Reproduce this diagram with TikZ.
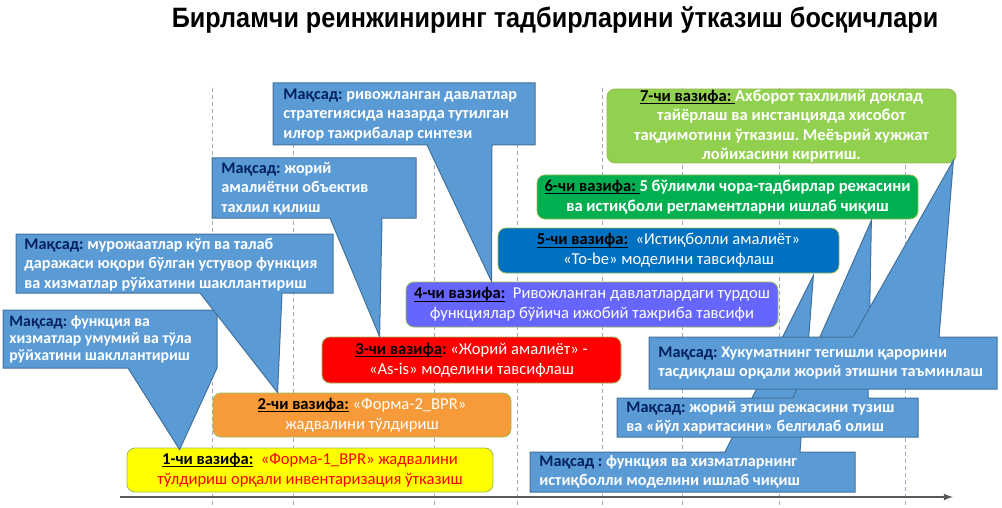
\documentclass[tikz,border=0pt]{standalone}
\usepackage{fontspec}
\setmainfont{Carlito}
\newfontfamily\titlefont{Liberation Sans}
\usepackage{xcolor}
\usepackage{tikz}
\usetikzlibrary{shapes,arrows,positioning,calc}
\definecolor{goalblue}{HTML}{5B9BD5}
\definecolor{goalline}{HTML}{41719C}
\definecolor{goalnavy}{HTML}{002060}
\definecolor{taskline}{HTML}{9BBB59}
\definecolor{taskyellow}{HTML}{FFFF00}
\definecolor{taskorange}{HTML}{F79B3A}
\definecolor{taskred}{HTML}{FF0000}
\definecolor{taskviolet}{HTML}{6666FF}
\definecolor{taskblue}{HTML}{0070C0}
\definecolor{taskgreen}{HTML}{00B050}
\definecolor{tasklime}{HTML}{92D050}
\definecolor{gridgray}{HTML}{A3AAC2}
\definecolor{axisgray}{HTML}{595959}
\newcommand{\taskno}[1]{{\color{black}\bfseries\setbox0\hbox{#1}\rlap{\rule[-1.4pt]{\wd0}{0.45pt}}\box0}}
\frenchspacing

\begin{document}
\begin{tikzpicture}[x=0.5pt,y=-0.5pt,
    task/.style={draw=taskline, line width=0.4pt, rounded corners=4pt, align=center,
      inner sep=0pt, text=white, font=\fontsize{8.3}{10}\selectfont},
    goal/.style={fill=goalblue, draw=goalline, line width=0.5pt},
    goaltext/.style={anchor=west, align=left, inner sep=0pt, text=white,
      font=\fontsize{8.1}{9.75}\selectfont\bfseries},
    grid/.style={draw=gridgray, line width=0.5pt, dash pattern=on 2pt off 1.5pt},
    axis/.style={draw=axisgray, line width=0.6pt, -latex}]
  \useasboundingbox (0,0) rectangle (1002,508);

  \node[anchor=base, font=\titlefont\bfseries\fontsize{14}{16}\selectfont] (title) at (555,28)
    {\scalebox{0.9}[1]{Бирламчи реинжиниринг тадбирларини ўтказиш босқичлари}};

  \foreach \x in {212,293,434,517,602,682,779,905}
    \draw[grid] (\x,88) -- (\x,508);
  \draw[axis] (120,497) -- (953,497);

  \node[task, fill=taskyellow, minimum width=183pt, minimum height=22pt] (t1) at (310,470)
    {\taskno{1-чи вазифа:}\ \ {\color{red}«Форма-1\_BPR» жадвалини}\\
     {\color{red}тўлдириш орқали инвентаризация ўтказиш}};
  \node[task, fill=taskorange, minimum width=149pt, minimum height=22pt] (t2) at (362,415)
    {\taskno{2-чи вазифа:} «Форма-2\_BPR»\\ жадвалини тўлдириш};
  \node[task, fill=taskred, minimum width=149.5pt, minimum height=23pt] (t3) at (471.5,360)
    {\taskno{3-чи вазифа}{\color{black}\bfseries:} «Жорий амалиёт» -\\ «As-is» моделини тавсифлаш};
  \node[task, fill=taskviolet, minimum width=186pt, minimum height=22.5pt] (t4) at (592,304.5)
    {\taskno{4-чи вазифа:}\ \ Ривожланган давлатлардаги турдош\\ функциялар бўйича ижобий тажриба тавсифи};
  \node[task, fill=taskblue, minimum width=170.5pt, minimum height=22.5pt] (t5) at (668.5,250.5)
    {\taskno{5-чи вазифа:}\ \ «Истиқболли амалиёт»\\ «To-be» моделини тавсифлаш};
  \node[task, fill=taskgreen, minimum width=190.5pt, minimum height=22pt, font=\fontsize{8.3}{10}\selectfont\bfseries] (t6) at (727.5,197)
    {\taskno{6-чи вазифа:\ }5 бўлимли чора-тадбирлар режасини\\ ва истиқболи регламентларни ишлаб чиқиш};
  \node[task, fill=tasklime, minimum width=174.5pt, minimum height=37pt, font=\fontsize{8.3}{9.8}\selectfont\bfseries] (t7) at (781.5,126)
    {\taskno{7-чи вазифа:\ }Ахборот тахлилий доклад\\ тайёрлаш ва инстанцияда хисобот\\ тақдимотини ўтказиш. Меёърий хужжат\\ лойихасини киритиш.};

  \filldraw[goal] (530,492) -- (530,452) -- (725,452) -- ($(t5.south east)+(-26,2)$) -- (800,452) -- (855,452) -- (855,492) -- cycle;
  \node[goaltext] (gG) at (539,472) {{\color{goalnavy}Мақсад :} функция ва хизматларнинг\\ истиқболли моделини ишлаб чиқиш};
  \filldraw[goal] (617,437) -- (617,398) -- (793,398) -- ($(t6.south east)+(-47,1)$) -- (868,398) -- (918,398) -- (918,437) -- cycle;
  \node[goaltext] (gF) at (626,417.5) {{\color{goalnavy}Мақсад:} жорий этиш режасини тузиш\\ ва «йўл харитасини» белгилаб олиш};
  \filldraw[goal] (649,389) -- (649,337) -- (853,337) -- ($(t7.south east)+(-3,-3)$) -- (939,337) -- (997,337) -- (997,389) -- cycle;
  \node[goaltext] (gE) at (658,363) {{\color{goalnavy}Мақсад:} Хукуматнинг тегишли қарорини\\ тасдиқлаш орқали жорий этишни таъминлаш};

  \filldraw[goal] (3,310) -- (217,310) -- (217,368) -- ($(t1.north west)+(53,2)$) -- (128,368) -- (3,368) -- cycle;
  \node[goaltext, font=\fontsize{7.9}{8.5}\selectfont\bfseries] (gA) at (9,339.5) {{\color{goalnavy}Мақсад:} функция ва\\ хизматлар умумий ва тўла\\ рўйхатини шакллантириш};
  \filldraw[goal] (16,234) -- (333,234) -- (333,293) -- (282,293) -- ($(t2.north west)+(65,0)$) -- (200,293) -- (16,293) -- cycle;
  \node[goaltext] (gB) at (24,264.5) {{\color{goalnavy}Мақсад:} мурожаатлар кўп ва талаб\\ даражаси юқори бўлган устувор функция\\ ва хизматлар рўйхатини шакллантириш};
  \filldraw[goal] (212,158) -- (416,158) -- (416,218) -- (382,218) -- ($(t3.north west)+(58,0)$) -- (330,218) -- (212,218) -- cycle;
  \node[goaltext] (gC) at (221,188.5) {{\color{goalnavy}Мақсад:} жорий\\ амалиётни объектив\\ тахлил қилиш};
  \filldraw[goal] (273,83) -- (535,83) -- (535,145) -- (492,145) -- ($(t4.north west)+(86,0)$) -- (427,145) -- (273,145) -- cycle;
  \node[goaltext] (gD) at (283,115) {{\color{goalnavy}Мақсад:} ривожланган давлатлар\\ стратегиясида назарда тутилган\\ илғор тажрибалар синтези};
\end{tikzpicture}
\end{document}
